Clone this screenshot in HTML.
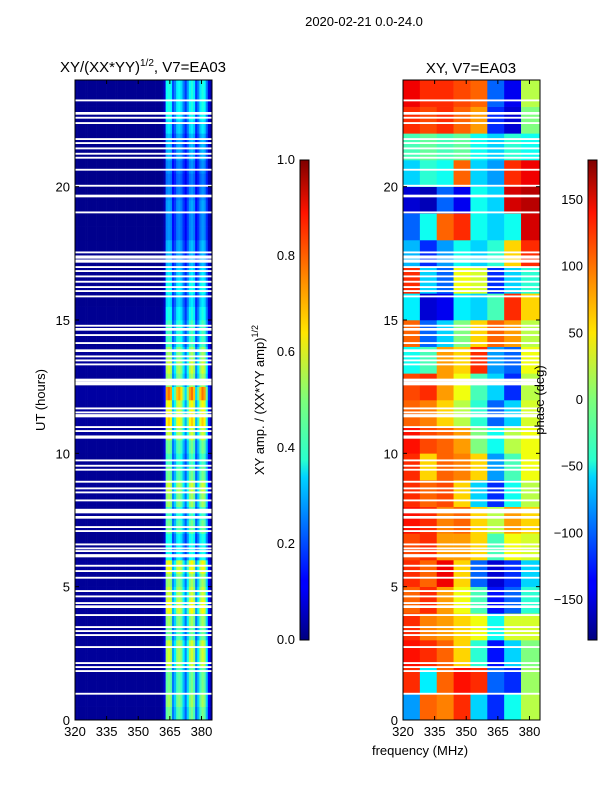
<!DOCTYPE html>
<html><head><meta charset="utf-8"><style>
body{margin:0;background:#fff;width:600px;height:800px;overflow:hidden}
svg text{font-family:"Liberation Sans",sans-serif;fill:#000}
</style></head><body>
<svg id="s" width="600" height="800" xmlns="http://www.w3.org/2000/svg">
<defs>
<linearGradient id="jet" x1="0" y1="1" x2="0" y2="0">
<stop offset="0" stop-color="#00007f"/><stop offset="0.11" stop-color="#0000ff"/><stop offset="0.125" stop-color="#0000ff"/>
<stop offset="0.34" stop-color="#00d4ff"/><stop offset="0.375" stop-color="#29ffce"/><stop offset="0.5" stop-color="#7dff7a"/>
<stop offset="0.64" stop-color="#ffe600"/><stop offset="0.75" stop-color="#ff8c00"/><stop offset="0.89" stop-color="#ff1300"/><stop offset="1" stop-color="#7f0000"/>
</linearGradient>
</defs>
<text x="364" y="26" font-size="13" text-anchor="middle">2020-02-21 0.0-24.0</text>
<text x="143" y="72" font-size="15" text-anchor="middle">XY/(XX*YY)<tspan font-size="10" dy="-6">1/2</tspan><tspan dy="6">, V7=EA03</tspan></text>
<text x="471" y="73" font-size="15" text-anchor="middle">XY, V7=EA03</text>
<g id="left"></g>
<g id="right"></g>
<g id="axes"></g>
<text transform="translate(45,400) rotate(-90)" font-size="13" text-anchor="middle">UT (hours)</text>
<text transform="translate(264,400) rotate(-90)" font-size="13" text-anchor="middle">XY amp. / (XX*YY amp)<tspan font-size="9" dy="-6">1/2</tspan></text>
<text transform="translate(544,400) rotate(-90)" font-size="13" text-anchor="middle">phase (deg)</text>
<text x="420" y="755" font-size="13" text-anchor="middle">frequency (MHz)</text>
<rect x="300" y="160" width="9" height="480" fill="url(#jet)" stroke="#000" stroke-width="1"/>
<rect x="588" y="160" width="9" height="480" fill="url(#jet)" stroke="#000" stroke-width="1"/>
</svg>
<script>
const freqStart=320, freqEnd=385, tMin=0, tMax=24;
// amplitude column profile per MHz channel (320..384)
const ampCols=[.02,.02,.02,.02,.02,.02,.02,.02,.02,.02,.02,.02,.02,.02,.02,.02,.02,.02,.02,.02,.02,.02,.02,.02,.02,.02,.02,.02,.02,.02,.02,.02,.02,.02,.02,.02,.02,.02,.02,.02,.02,.03,.08,.42,.45,.42,.22,.28,.4,.42,.38,.28,.2,.3,.42,.45,.4,.2,.28,.4,.45,.42,.28,.1,.05];
// amplitude gain per half-hour row (0..24)
const ampRows=[1.1,1.2,1.1,1.1,1.3,1.3,1.1,1.2,1.4,1.3,1.2,1.4,.9,.9,1.1,1.0,1.2,1.3,1.1,1.0,1.1,1.3,1.5,1.4,1.7,1.2,1.3,1.2,1.0,1.0,.9,.8,.9,.8,.7,.7,.6,.6,.65,.6,.55,.6,.7,.7,.8,.9,.9,.9];
const phaseCats=[320,328,336,344,352,360,368,376];
const phaseRows=[
[-80,100,90,120,-60,-120,-40,20],[120,-50,100,130,120,-100,-120,10],[130,120,100,60,-30,-130,-60,0],[120,90,80,60,40,-40,30,30],
[100,120,80,40,-20,-130,-100,-30],[120,100,140,60,-100,-150,-120,-60],[110,120,80,80,60,-20,40,30],[130,120,90,100,60,20,80,60],
[120,100,110,60,-60,-120,-40,20],[120,60,100,90,60,-80,-20,40],[130,110,100,80,0,-40,20,40],[100,90,60,20,-30,-100,-60,30],
[110,120,80,40,-20,-60,-120,20],[-40,-20,80,60,120,-80,-100,40],[100,-100,-60,0,60,100,80,20],[-50,-150,-140,-50,-60,-20,120,60],
[120,-60,-100,40,30,-120,-60,-30],[-70,-120,-80,-40,-60,-30,60,120],[-100,-40,100,120,-40,-60,-40,150],[-150,-160,-100,-140,-40,-60,150,160],
[-60,-30,-40,100,-60,-80,120,140],[-20,-10,-20,-10,-40,-60,-30,-40],[120,110,120,100,80,-120,-150,0],[140,120,120,110,100,-100,-140,20]];
const flagStart=[0.95,1.8,1.95,2.1,2.7,3.15,3.3,3.45,3.9,4.2,4.35,4.6,4.8,5.3,5.55,5.75,6.1,6.3,6.4,6.55,7.05,7.2,7.55,7.75,7.85,8.2,8.5,8.65,8.9,9.35,9.5,9.7,10.55,10.8,10.95,11.35,11.5,11.65,12.55,12.7,13.3,13.45,13.6,13.8,14.1,14.4,14.6,14.75,15.85,16.05,16.2,16.4,16.6,16.8,16.95,17.15,17.3,17.5,19.0,19.6,20.0,20.6,21.05,21.2,21.4,21.6,21.75,22.35,22.55,22.7,23.2];
const flagDur=[.07,.07,.07,.07,.07,.07,.07,.07,.07,.1,.07,.07,.07,.07,.07,.07,.12,.07,.07,.07,.07,.07,.1,.15,.07,.07,.07,.07,.07,.07,.07,.07,.12,.07,.07,.12,.07,.07,.15,.1,.07,.07,.07,.1,.07,.07,.1,.07,.07,.07,.07,.07,.07,.07,.07,.12,.12,.07,.07,.1,.07,.07,.07,.07,.07,.07,.07,.07,.07,.1,.07];
const xTicks=[320,335,350,365,380], yTicks=[0,5,10,15,20];
const cb1Ticks=["0.0","0.2","0.4","0.6","0.8","1.0"], cb2Ticks=[-150,-100,-50,0,50,100,150];

const NS="http://www.w3.org/2000/svg";
const panels=[{x0:75,x1:212,id:'left'},{x0:403,x1:540,id:'right'}];
const Y0=720,Y1=80;
const yScale=t=>Y0-(t-tMin)/(tMax-tMin)*(Y0-Y1);
const xScale=(p,f)=>p.x0+(f-freqStart)/(freqEnd-freqStart)*(p.x1-p.x0);
function jet(v){v=Math.max(0,Math.min(1,v));
 const r=Math.min(4*v-1.5,-4*v+4.5),g=Math.min(4*v-.5,-4*v+3.5),b=Math.min(4*v+.5,-4*v+2.5);
 const c=x=>Math.round(255*Math.max(0,Math.min(1,x)));return `rgb(${c(r)},${c(g)},${c(b)})`;}
function rect(parent,x,y,w,h,fill,name){const r=document.createElementNS(NS,'rect');
 r.setAttribute('x',x);r.setAttribute('y',y);r.setAttribute('width',w);r.setAttribute('height',h);r.setAttribute('fill',fill);
 
 
 parent.appendChild(r);return r;}
function text(parent,x,y,s,anchor,name){const t=document.createElementNS(NS,'text');
 t.setAttribute('x',x);t.setAttribute('y',y);t.setAttribute('font-size','13');t.setAttribute('text-anchor',anchor);t.textContent=s;
 
 
 parent.appendChild(t);}
const L=document.getElementById('left'),pL=panels[0];
ampRows.forEach((g,r)=>{const t0=r*0.5,t1=t0+0.5;
 ampCols.forEach((a,c)=>{const f0=freqStart+c;const x=xScale(pL,f0);
  rect(L,x,yScale(t1),xScale(pL,f0+1)-x+0.3,yScale(t0)-yScale(t1)+0.3,jet(a*g),'amp-cell');});});
const R=document.getElementById('right'),pR=panels[1];
phaseRows.forEach((row,r)=>{row.forEach((v,c)=>{const f0=phaseCats[c],f1=c+1<phaseCats.length?phaseCats[c+1]:freqEnd;
 const x=xScale(pR,f0);
 rect(R,x,yScale(r+1),xScale(pR,f1)-x+0.3,yScale(r)-yScale(r+1)+0.3,jet((v+180)/360),'phase-cell');});});
flagStart.forEach((t,i)=>{panels.forEach(p=>{
 rect(document.getElementById(p.id),p.x0,yScale(t+flagDur[i]),p.x1-p.x0,yScale(t)-yScale(t+flagDur[i]),'#fff','flagged-row');});});
const A=document.getElementById('axes');
panels.forEach((p,pi)=>{const fr=rect(A,p.x0,Y1,p.x1-p.x0,Y0-Y1,'none','plot-frame-'+pi);fr.setAttribute('stroke','#000');
 xTicks.forEach(f=>{const x=xScale(p,f);rect(A,x-0.5,Y0-4,1,4,'#000','x-tick');rect(A,x-0.5,Y1,1,4,'#000','x-tick');
  text(A,x,736,String(f),'middle','x-tick-label');});
 yTicks.forEach(t=>{const y=yScale(t);rect(A,p.x0,y-0.5,4,1,'#000','y-tick');rect(A,p.x1-4,y-0.5,4,1,'#000','y-tick');
  text(A,p.x0-5,y+5,String(t),'end','y-tick-label');});});
cb1Ticks.forEach((s,i)=>{const y=640-i*96;rect(A,300,y-0.5,9,1,'#000','cb1-tick');text(A,295,y+4,s,'end','cb1-tick-label');});
cb2Ticks.forEach(v=>{const y=400-v*480/360;rect(A,588,y-0.5,9,1,'#000','cb2-tick');text(A,583,y+4,(v<0?'\u2212':'')+Math.abs(v),'end','cb2-tick-label');});
</script>
</body></html>
